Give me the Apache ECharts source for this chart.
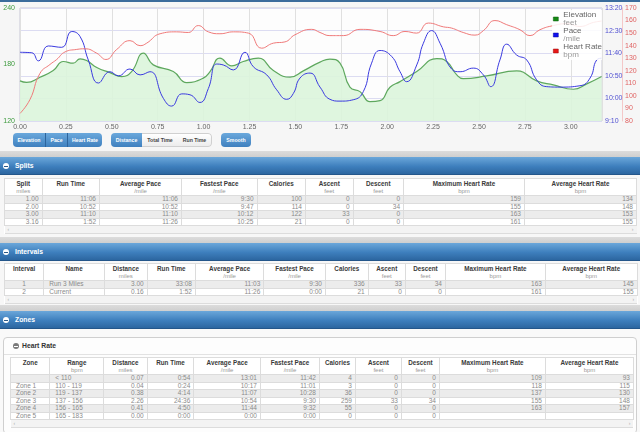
<!DOCTYPE html>
<html>
<head>
<meta charset="utf-8">
<title>Run analysis</title>
<script src="https://cdn.jsdelivr.net/npm/echarts@6/dist/echarts.min.js"></script>
<style>
body{margin:0;width:640px;height:432px;overflow:hidden;background:#f4f4f4;position:relative;font-family:"Liberation Sans",Arial,sans-serif}
#strip{position:absolute;left:0;top:0;width:640px;height:2px;background:#3b6c9c;z-index:5}
#chartPanel{position:absolute;left:0;top:0;width:640px;height:151px;background:#f6f6f6}
#chart{position:absolute;left:0;top:0;width:640px;height:133px}
.grp{position:absolute;top:133px;height:14px;border-radius:4px;overflow:hidden;display:flex}
.grp div{height:14px;line-height:14px;text-align:center;font-size:5.2px;font-weight:bold;color:#fff;background:linear-gradient(#6aa8dc,#3f80bf);box-sizing:border-box}
.grp div.off{background:linear-gradient(#ffffff,#ececec);color:#444;border-top:1px solid #d0d0d0;border-bottom:1px solid #d0d0d0;line-height:12px}
.grp div.sep{border-left:1px solid #2d649c}
.band{position:absolute;left:0;width:640px;height:6px;background:linear-gradient(#dcdcdc,#cfcfcf)}
.hdr{position:absolute;left:0;width:640px;height:18px;background:linear-gradient(#6ba7da,#3e7fbd 55%,#2c66a0);border-bottom:1px solid #24568a;box-sizing:border-box}
.hdr span{position:absolute;left:15px;top:0;line-height:17px;font-size:6.8px;font-weight:bold;color:#fff}
.hdr i{position:absolute;left:3px;top:6px;width:6px;height:6px;border-radius:3px;background:#fff}
.hdr i:after{content:"";position:absolute;left:1.3px;top:2.5px;width:3.4px;height:1px;background:#2c5a88}
.panel{position:absolute;left:0;width:640px;background:#f7f7f7}
table{position:absolute;border-collapse:collapse;table-layout:fixed;background:#fff;font-size:6.5px;color:#8a8a8a}
td,th{padding:0 3px;border:1px solid #dcdcdc;overflow:hidden;white-space:nowrap}
th{height:15px;vertical-align:top;text-align:center;font-weight:normal;line-height:7.4px;padding-top:0.5px}
th b{color:#3a3a3a;font-size:6.3px}
th em{font-style:normal;color:#999;font-size:6px}
tr.d td{height:6.5px;line-height:6.5px;text-align:right}
tr.d:nth-child(even) td{background:#ececec}
td.l{text-align:left !important;padding-left:5px}
td.c{text-align:center !important}
tr.s td{height:7px;line-height:7px;background:#f3f3f3;font-size:5px;color:#aaa;border-left:none;border-right:none}
#sub{position:absolute;left:3px;top:337px;width:634px;height:97px;border:1px solid #cfcfcf;border-radius:4px;background:#fdfdfd;box-sizing:border-box}
#subhead{position:absolute;left:0;top:0;width:632px;height:16px;border-bottom:1px solid #e2e2e2}
#subhead span{position:absolute;left:18px;top:0;line-height:16px;font-size:6.8px;font-weight:bold;color:#333}
#subhead i{position:absolute;left:9px;top:5px;width:6px;height:6px;border-radius:3px;background:#7a7a7a}
#subhead i:after{content:"";position:absolute;left:1.3px;top:2.5px;width:3.4px;height:1px;background:#fff}
</style>
</head>
<body>
<div id="chartPanel">
  <div id="chart"></div>
  <div class="grp" style="left:13px;width:89px">
    <div style="width:32px">Elevation</div><div class="sep" style="width:22px">Pace</div><div class="sep" style="width:35px">Heart Rate</div>
  </div>
  <div class="grp" style="left:111px;width:101px">
    <div style="width:31px">Distance</div><div class="off" style="width:36px">Total Time</div><div class="off" style="width:34px;border-right:1px solid #d0d0d0;border-radius:0 4px 4px 0">Run Time</div>
  </div>
  <div class="grp" style="left:221px;width:30px">
    <div style="width:30px">Smooth</div>
  </div>
</div>
<div id="strip"></div>

<div class="band" style="top:151px"></div>
<div class="hdr" style="top:157px"><i></i><span>Splits</span></div>
<div class="panel" style="top:175px;height:62px"></div>
<table id="splits" style="left:4px;top:178px;width:632px"></table>

<div class="band" style="top:237px"></div>
<div class="hdr" style="top:243px"><i></i><span>Intervals</span></div>
<div class="panel" style="top:261px;height:44px"></div>
<table id="intervals" style="left:4px;top:263px;width:633px"></table>

<div class="band" style="top:305px"></div>
<div class="hdr" style="top:311px"><i></i><span>Zones</span></div>
<div class="panel" style="top:329px;height:103px;background:#f9f9f9"></div>
<div id="sub"><div id="subhead"><i></i><span>Heart Rate</span></div></div>
<table id="zones" style="left:10px;top:357px;width:623px"></table>

<script type="text/javascript">
// chart series: distance (miles) and value
var elevDist = [0, 0.036, 0.109, 0.181, 0.236, 0.29, 0.327, 0.363, 0.418, 0.49, 0.554, 0.608, 0.672, 0.726, 0.835, 0.908, 0.998, 1.035, 1.089, 1.153, 1.216, 1.298, 1.38, 1.471, 1.543, 1.634, 1.688, 1.743, 1.797, 1.852, 1.906, 1.961, 2.015, 2.07, 2.161, 2.27, 2.324, 2.379, 2.414, 2.542, 2.705, 2.814, 2.905, 3.014, 3.087, 3.168];
var elevFeet = [162.6, 161, 166.5, 173.6, 183.2, 181.4, 186, 184.2, 176.8, 171.4, 167.2, 172.5, 192, 179.6, 172.5, 160.8, 165.5, 172.5, 186.8, 178.6, 183.2, 186.8, 173.6, 166.5, 173.2, 182.5, 185.7, 181.4, 155.9, 151.2, 140.6, 141.6, 155.9, 161.8, 172.5, 186.3, 183.2, 169, 165, 167.9, 173.2, 162.6, 158.3, 153.7, 159.4, 167.2];

var paceDist = [0, 0.064, 0.1, 0.154, 0.227, 0.282, 0.327, 0.372, 0.427, 0.49, 0.536, 0.599, 0.654, 0.708, 0.781, 0.826, 0.881, 0.926, 0.98, 1.026, 1.071, 1.107, 1.162, 1.225, 1.271, 1.344, 1.398, 1.453, 1.489, 1.525, 1.58, 1.634, 1.688, 1.743, 1.815, 1.87, 1.915, 1.961, 2.024, 2.07, 2.106, 2.161, 2.197, 2.242, 2.288, 2.351, 2.397, 2.469, 2.524, 2.564, 2.614, 2.651, 2.705, 2.76, 2.814, 2.869, 2.941, 3.05, 3.105, 3.141, 3.168];
var paceSec = [702, 701, 683, 716, 713, 748, 737, 685, 634, 659, 650, 665, 652, 659, 600, 583, 610, 608, 591, 622, 676, 674, 663, 702, 670, 652, 619, 598, 611, 645, 656, 625, 598, 594, 597, 615, 678, 706, 693, 659, 637, 674, 722, 750, 722, 665, 659, 667, 652, 626, 685, 720, 696, 685, 641, 626, 625, 628, 645, 685, 689];

var hrDist = [0, 0.054, 0.109, 0.163, 0.2, 0.245, 0.309, 0.354, 0.418, 0.468, 0.527, 0.599, 0.654, 0.69, 0.763, 0.853, 0.917, 0.971, 1.026, 1.089, 1.162, 1.244, 1.316, 1.38, 1.443, 1.498, 1.589, 1.634, 1.688, 1.761, 1.852, 1.961, 2.033, 2.097, 2.16, 2.224, 2.306, 2.351, 2.414, 2.478, 2.524, 2.587, 2.651, 2.723, 2.778, 2.832, 2.905, 2.978, 3.05, 3.123, 3.168];
var hrBpm = [86, 97, 118, 125, 129, 135, 137, 137.5, 134, 129, 137, 144, 140, 142, 149.5, 151, 150.5, 156, 151, 149.5, 151, 150, 138, 142, 143, 148.7, 153, 150.5, 148, 148, 153, 151.3, 148, 151.3, 150, 158, 155, 154, 150.5, 148.4, 152, 160, 156.7, 152.7, 148, 152.7, 156, 157.5, 155.3, 158.5, 159.6];

var legendUnits = {'Elevation': 'feet', 'Pace': '/mile', 'Heart Rate': 'bpm'};

// tables
var splitHead = [['Split', 'miles'], ['Run Time', ''], ['Average Pace', '/mile'], ['Fastest Pace', '/mile'], ['Calories', ''], ['Ascent', 'feet'], ['Descent', 'feet'], ['Maximum Heart Rate', 'bpm'], ['Average Heart Rate', 'bpm']];
var splitCols = [37.5, 57.5, 82, 75.5, 48.5, 47.5, 50.5, 121, 112];
var splitRows = [
  ['1.00', '11:06', '11:06', '9:30', '100', '0', '0', '159', '134'],
  ['2.00', '10:52', '10:52', '9:47', '114', '0', '34', '155', '148'],
  ['3.00', '11:10', '11:10', '10:12', '122', '33', '0', '163', '153'],
  ['3.16', '1:52', '11:26', '10:25', '21', '0', '0', '161', '155']
];

var intHead = [['Interval', ''], ['Name', ''], ['Distance', 'miles'], ['Run Time', ''], ['Average Pace', '/mile'], ['Fastest Pace', '/mile'], ['Calories', ''], ['Ascent', 'feet'], ['Descent', 'feet'], ['Maximum Heart Rate', 'bpm'], ['Average Heart Rate', 'bpm']];
var intCols = [39.3, 60.7, 42.7, 48.3, 68.3, 61.7, 42.7, 37.3, 40, 100, 91.7];
var intRows = [
  ['1', 'Run 3 Miles', '3.00', '33:08', '11:03', '9:30', '336', '33', '34', '163', '145'],
  ['2', 'Current', '0.16', '1:52', '11:26', '0:00', '21', '0', '0', '161', '155']
];

var zoneHead = [['Zone', ''], ['Range', 'bpm'], ['Distance', 'miles'], ['Run Time', ''], ['Average Pace', '/mile'], ['Fastest Pace', '/mile'], ['Calories', ''], ['Ascent', 'feet'], ['Descent', 'feet'], ['Maximum Heart Rate', 'bpm'], ['Average Heart Rate', 'bpm']];
var zoneCols = [39.3, 54, 43.4, 46.6, 66.7, 59, 36, 46, 38, 106, 88];
var zoneRows = [
  ['', '< 110', '0.07', '0:54', '13:01', '11:42', '4', '0', '0', '109', '93'],
  ['Zone 1', '110 - 119', '0.04', '0:24', '10:17', '11:01', '3', '0', '0', '118', '115'],
  ['Zone 2', '119 - 137', '0.38', '4:14', '11:07', '10:28', '36', '0', '0', '137', '130'],
  ['Zone 3', '137 - 156', '2.26', '24:36', '10:54', '9:30', '259', '33', '34', '155', '148'],
  ['Zone 4', '156 - 165', '0.41', '4:50', '11:44', '9:32', '55', '0', '0', '163', '157'],
  ['Zone 5', '165 - 183', '0.00', '0:00', '0:00', '0:00', '0', '0', '0', '', '']
];

function buildTable(id, head, cols, rows, align) {
    var html = '<colgroup>';
    for (var i = 0; i < cols.length; i++) html += '<col style="width:' + cols[i] + 'px">';
    html += '</colgroup><tr>';
    for (var i = 0; i < head.length; i++) {
        html += '<th><b>' + head[i][0] + '</b><br><em>' + (head[i][1] || '&nbsp;') + '</em></th>';
    }
    html += '</tr>';
    for (var r = 0; r < rows.length; r++) {
        html += '<tr class="d">';
        for (var c = 0; c < rows[r].length; c++) {
            var cls = align[c] ? ' class="' + align[c] + '"' : '';
            html += '<td' + cls + '>' + (rows[r][c] === '' ? '&nbsp;' : rows[r][c].replace('<', '&lt;')) + '</td>';
        }
        html += '</tr>';
    }
    html += '<tr class="s"><td style="text-align:left">&#8249;</td><td colspan="' + (cols.length - 2) + '"></td><td style="text-align:right">&#8250;</td></tr>';
    document.getElementById(id).innerHTML = html;
}
buildTable('splits', splitHead, splitCols, splitRows, {});
buildTable('intervals', intHead, intCols, intRows, {0: 'c', 1: 'l'});
buildTable('zones', zoneHead, zoneCols, zoneRows, {0: 'l', 1: 'l'});

function pairs(xs, ys) {
    return xs.map(function (x, i) { return [x, ys[i]]; });
}
function fmtPace(s) {
    var m = Math.floor(s / 60), r = Math.round(s % 60);
    return m + ':' + (r < 10 ? '0' + r : r);
}

var chart = echarts.init(document.getElementById('chart'));
var option = {
    animation: false,
    textStyle: {fontFamily: 'Liberation Sans'},
    grid: {left: 20, right: 38, top: 8, bottom: 12, show: true, backgroundColor: '#fdfdfd', borderColor: '#c9c9d6', borderWidth: 1},
    legend: {
        orient: 'vertical', right: 38, top: 10,
        icon: 'rect', itemWidth: 5, itemHeight: 4, itemGap: 0,
        backgroundColor: 'rgba(255,255,255,0.85)', padding: [1, 0, 1, 1],
        formatter: function (name) { return '{a|' + name + '}\n{b|' + legendUnits[name] + '}'; },
        textStyle: {rich: {a: {fontSize: 8, color: '#666', lineHeight: 8}, b: {fontSize: 8, color: '#999', lineHeight: 8}}},
        data: [
            {name: 'Elevation', itemStyle: {color: '#168a16', borderColor: '#0c5a0c', borderWidth: 0.5}},
            {name: 'Pace', itemStyle: {color: '#1010ee', borderColor: '#0a0a99', borderWidth: 0.5}},
            {name: 'Heart Rate', itemStyle: {color: '#e81818', borderColor: '#990a0a', borderWidth: 0.5}}
        ]
    },
    xAxis: {
        type: 'value', min: 0, max: 3.17, interval: 0.25,
        axisLine: {show: false}, axisTick: {show: false},
        splitLine: {show: true, lineStyle: {color: '#e0e0e0'}},
        axisLabel: {fontSize: 7, color: '#666', margin: 3, showMaxLabel: false, formatter: function (v) { return v.toFixed(2); }}
    },
    yAxis: [
        {
            type: 'value', min: 120, max: 240, interval: 60, position: 'left',
            axisLine: {show: false}, axisTick: {show: false}, splitLine: {show: false},
            axisLabel: {fontSize: 7, color: '#3d9a3d', margin: 5}
        },
        {
            type: 'value', min: 550, max: 800, interval: 50, position: 'right',
            axisLine: {show: false}, axisTick: {show: false},
            splitLine: {show: true, lineStyle: {color: '#dcdcf2'}},
            axisLabel: {fontSize: 7, color: '#5252d2', margin: 3, formatter: fmtPace}
        },
        {
            type: 'value', min: 80, max: 170, interval: 10, position: 'right', offset: 20,
            axisLine: {show: true, lineStyle: {color: '#f4c8c8'}}, axisTick: {show: false}, splitLine: {show: false},
            axisLabel: {fontSize: 7, color: '#e06464', margin: 3}
        }
    ],
    series: [
        {
            name: 'Elevation', type: 'line', yAxisIndex: 0, smooth: true, showSymbol: false,
            data: pairs(elevDist, elevFeet),
            itemStyle: {color: '#168a16'},
            lineStyle: {color: '#5ea85e', width: 1.2},
            areaStyle: {color: '#dcf5dc', opacity: 0.9, origin: 'start'}
        },
        {
            name: 'Pace', type: 'line', yAxisIndex: 1, smooth: true, showSymbol: false,
            data: pairs(paceDist, paceSec),
            itemStyle: {color: '#1010ee'},
            lineStyle: {color: '#3a3ae0', width: 1}
        },
        {
            name: 'Heart Rate', type: 'line', yAxisIndex: 2, smooth: true, showSymbol: false,
            data: pairs(hrDist, hrBpm),
            itemStyle: {color: '#e81818'},
            lineStyle: {color: '#f07a7a', width: 1}
        }
    ]
};
chart.setOption(option);
</script>
</body>
</html>
